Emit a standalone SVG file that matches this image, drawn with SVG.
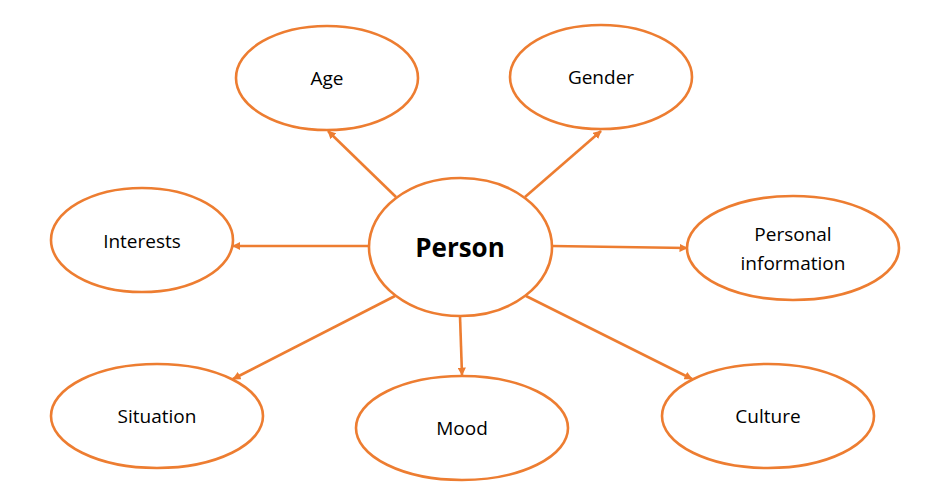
<svg xmlns="http://www.w3.org/2000/svg" width="938" height="490" viewBox="0 0 938 490">
<style>
.n ellipse{fill:#fff;stroke:#ED7D31;stroke-width:2.6}
.n text{font-family:"Open Sans","Noto Sans",sans-serif;font-size:19px;fill:#000;text-anchor:middle}
#person text{font-size:26px;font-weight:bold}
#edges line{stroke:#ED7D31;stroke-width:2.6;marker-end:url(#ah)}
</style>
<defs>
<marker id="ah" viewBox="0 0 10 10" refX="9" refY="5" markerWidth="3.2" markerHeight="3.2" orient="auto" markerUnits="strokeWidth">
<path d="M0,0 L10,5 L0,10 z" fill="#ED7D31"/>
</marker>
</defs>
<rect width="938" height="490" fill="#fff"/>
<g id="edges">
<line x1="396" y1="197" x2="328" y2="131"/>
<line x1="525" y1="197" x2="601" y2="131"/>
<line x1="369" y1="246" x2="233" y2="246"/>
<line x1="552" y1="246" x2="687" y2="248"/>
<line x1="395" y1="296" x2="233" y2="379"/>
<line x1="460" y1="316" x2="462" y2="375"/>
<line x1="526" y1="296" x2="692" y2="379"/>
</g>
<g id="person" class="n"><ellipse cx="460.5" cy="247" rx="91.5" ry="69"/><text x="460" y="257">Person</text></g>
<g id="age" class="n"><ellipse cx="327" cy="78" rx="91" ry="52"/><text x="327" y="85">Age</text></g>
<g id="gender" class="n"><ellipse cx="601" cy="77" rx="91" ry="52"/><text x="601" y="84">Gender</text></g>
<g id="interests" class="n"><ellipse cx="142" cy="240" rx="91" ry="52"/><text x="142" y="248">Interests</text></g>
<g id="personal" class="n"><ellipse cx="793" cy="248" rx="106" ry="52"/><text x="793" y="241">Personal</text><text x="793" y="270">information</text></g>
<g id="situation" class="n"><ellipse cx="157" cy="416" rx="106" ry="52"/><text x="157" y="423">Situation</text></g>
<g id="mood" class="n"><ellipse cx="462" cy="428" rx="106" ry="52"/><text x="462" y="435">Mood</text></g>
<g id="culture" class="n"><ellipse cx="768" cy="416" rx="106" ry="52"/><text x="768" y="423">Culture</text></g>
</svg>
